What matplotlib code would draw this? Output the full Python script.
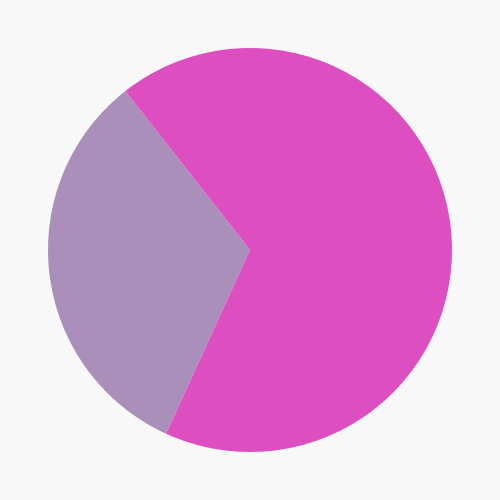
import matplotlib
matplotlib.use("Agg")
import matplotlib.pyplot as plt

labels = ["A", "B"]
values = [32.6, 67.4]
colors = ["#a98fba", "#dd4fc0"]

fig = plt.figure(figsize=(5, 5), dpi=100, facecolor="#f8f8f8")
ax = fig.add_axes([0, 0, 1, 1])
ax.set_facecolor("#f8f8f8")

ax.pie(values, colors=colors, startangle=128.1, counterclock=True,
       radius=1.0, center=(0, 0), wedgeprops=dict(linewidth=0))

lim = 250 / 202
ax.set_xlim(-lim, lim)
ax.set_ylim(-lim, lim)
ax.set_aspect("equal")
ax.axis("off")

fig.savefig("out.png", dpi=100, facecolor=fig.get_facecolor())
